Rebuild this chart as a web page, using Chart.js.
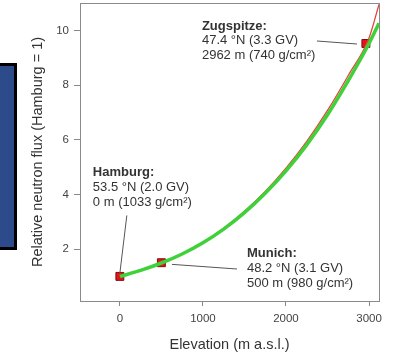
<!DOCTYPE html>
<html>
<head>
<meta charset="utf-8">
<script src="https://cdn.jsdelivr.net/npm/chart.js@4/dist/chart.umd.min.js"></script>
<style>
  body { margin: 0; background: #fff; }
  .wrap { position: relative; width: 398px; height: 354px; }
  .slide-box {
    position: absolute; left: -3px; top: 63px; width: 14px; height: 181px;
    background: #2d4b8b; border: 3px solid #000;
  }
</style>
</head>
<body>
<div class="wrap">
  <canvas class="chart"></canvas>
  <div class="slide-box"></div>
</div>
<script>
// elevation (m a.s.l.) and relative neutron flux curves
let elevation = [0, 250, 500, 750, 1000, 1250, 1500, 1750, 2000, 2250, 2500, 2750, 3000, 3120];
let fluxGreen = [1.0, 1.22, 1.49, 1.82, 2.23, 2.73, 3.33, 4.04, 4.86, 5.81, 6.91, 8.16, 9.52, 10.26];
let fluxRed = [1.0, 1.22, 1.49, 1.82, 2.24, 2.76, 3.38, 4.11, 4.96, 5.94, 7.07, 8.35, 9.72, 10.95];

// measurement sites
let siteElev = [0, 500, 2962];
let siteFlux = [1.0, 1.5, 9.52];

// leader lines from labels to sites: [x1, y1, x2, y2]
let leaders = [
  [84, 3.23, 0, 1.12],
  [627, 1.44, 1410, 1.27],
  [2373, 9.61, 2855, 9.5],
];

// site labels: anchor elevation, anchor flux (first line), lines
let labelX = [-325, 1530, 988];
let labelY = [4.8, 1.84, 10.16];
let labelLines = [
  ["Hamburg:", "53.5 °N (2.0 GV)", "0 m (1033 g/cm²)"],
  ["Munich:", "48.2 °N (3.1 GV)", "500 m (980 g/cm²)"],
  ["Zugspitze:", "47.4 °N (3.3 GV)", "2962 m (740 g/cm²)"],
];

let xTicks = [0, 1000, 2000, 3000];
let yTicks = [2, 4, 6, 8, 10];

let FONT = "'Liberation Sans', Arial, sans-serif";

let boxPlugin = {
  id: "box",
  beforeDatasetsDraw(chart) {
    let a = chart.chartArea;
    let ctx = chart.ctx;
    ctx.save();
    ctx.strokeStyle = "#8a8a8a";
    ctx.lineWidth = 1;
    ctx.strokeRect(Math.round(a.left) + 0.5, Math.round(a.top) + 0.5,
      Math.round(a.right - a.left), Math.round(a.bottom - a.top));
    ctx.restore();
  },
};

let labelPlugin = {
  id: "siteLabels",
  afterDatasetsDraw(chart) {
    let ctx = chart.ctx;
    let sx = chart.scales.x;
    let sy = chart.scales.y;
    ctx.save();
    ctx.fillStyle = "#333";
    ctx.textBaseline = "middle";
    ctx.textAlign = "left";
    labelLines.forEach((lines, i) => {
      let px = sx.getPixelForValue(labelX[i]);
      let py = sy.getPixelForValue(labelY[i]);
      lines.forEach((t, j) => {
        ctx.font = (j === 0 ? "bold " : "") + "13px " + FONT;
        ctx.fillText(t, px, py + j * 14.8);
      });
    });
    ctx.restore();
  },
};

function noPad(s) {
  s.paddingTop = 0;
  s.paddingBottom = 0;
  s.paddingLeft = 0;
  s.paddingRight = 0;
}

let datasets = [];
leaders.forEach((l) => {
  datasets.push({
    data: [{ x: l[0], y: l[1] }, { x: l[2], y: l[3] }],
    borderColor: "#555",
    borderWidth: 1,
    pointRadius: 0,
  });
});
datasets.push({
  label: "fit green",
  data: elevation.map((e, i) => ({ x: e, y: fluxGreen[i] })),
  borderColor: "#3fd13a",
  borderWidth: 3.5,
  pointRadius: 0,
  cubicInterpolationMode: "monotone",
});
datasets.push({
  label: "fit red",
  data: elevation.map((e, i) => ({ x: e, y: fluxRed[i] })),
  borderColor: "#e8413a",
  borderWidth: 1.3,
  pointRadius: 0,
  cubicInterpolationMode: "monotone",
});
datasets.push({
  label: "sites",
  data: siteElev.map((e, i) => ({ x: e, y: siteFlux[i] })),
  showLine: false,
  pointStyle: "rect",
  pointRadius: 5.6,
  backgroundColor: "#e5121b",
  borderColor: "#7a1010",
  borderWidth: 1,
});

let config = {
  type: "line",
  data: { datasets: datasets },
  options: {
    responsive: true,
    maintainAspectRatio: false,
    animation: false,
    events: [],
    layout: { autoPadding: false, padding: { top: 3, right: 19, left: 0, bottom: 0 } },
    plugins: {
      legend: { display: false },
      tooltip: { enabled: false },
    },
    scales: {
      x: {
        type: "linear",
        min: -480,
        max: 3120,
        afterBuildTicks: (s) => { s.ticks = xTicks.map((v) => ({ value: v })); },
        afterFit: (s) => { s.height = 53; noPad(s); },
        grid: { drawOnChartArea: false, drawTicks: true, tickLength: 5, color: "#888" },
        border: { display: false },
        ticks: {
          color: "#444", padding: 6, font: { family: FONT, size: 11.5 }, maxRotation: 0,
          callback: (v) => String(v),
        },
        title: {
          display: true,
          text: "Elevation (m a.s.l.)",
          color: "#333",
          font: { family: FONT, size: 14.5 },
          padding: { top: 2, bottom: 0 },
        },
      },
      y: {
        type: "linear",
        min: 0.1,
        max: 11,
        afterBuildTicks: (s) => { s.ticks = yTicks.map((v) => ({ value: v })); },
        afterFit: (s) => { s.width = 80; noPad(s); },
        grid: { drawOnChartArea: false, drawTicks: true, tickLength: 6, color: "#888" },
        border: { display: false },
        ticks: {
          color: "#444", padding: 5, font: { family: FONT, size: 11.5 },
          callback: (v) => String(v),
        },
        title: {
          display: true,
          text: "Relative neutron flux (Hamburg = 1)",
          color: "#333",
          font: { family: FONT, size: 14.5 },
          padding: { top: 29, bottom: 0 },
        },
      },
    },
  },
  plugins: [boxPlugin, labelPlugin],
};

new Chart(document.querySelector(".chart"), config);
</script>
</body>
</html>
